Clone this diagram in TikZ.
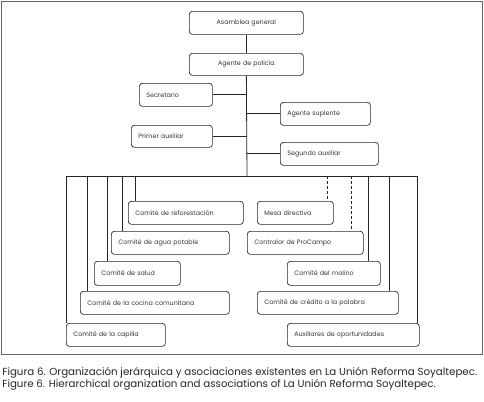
\documentclass[tikz,border=0pt]{standalone}
\usepackage{fontspec}
\setmainfont{Poppins}
\begin{document}
\begin{tikzpicture}[x=1bp,y=-1bp,
  line width=0.7bp,
  box/.style={draw=black!85, rounded corners=3bp, anchor=north west, inner xsep=7bp, inner ysep=0pt,
    font=\fontsize{6.4}{7.4}\selectfont, text=black!80, align=left},
  cbox/.style={box, align=center, inner xsep=0pt},
  conn/.style={draw=black!85, line width=0.8bp},
  dconn/.style={conn, dashed, dash pattern=on 3bp off 2bp}]
\useasboundingbox (0,0) rectangle (484,401);
\draw[black!60, line width=0.8bp] (1,1) rectangle (482,354);
% top
\node[cbox, minimum width=114bp, text width=114bp, minimum height=23bp] (asam) at (189,11) {Asamblea general};
\node[cbox, minimum width=114bp, text width=114bp, minimum height=22bp] (agen) at (189,53) {Agente de policía};
\node[box, minimum height=23bp, text width=59bp] (secr) at (139,83) {Secretario};
\node[box, minimum height=23bp, text width=76bp] (asup) at (280,102) {Agente suplente};
\node[box, minimum height=22bp, text width=67bp] (paux) at (131,125) {Primer auxiliar};
\node[box, minimum height=23bp, text width=84bp] (saux) at (280,142) {Segundo auxiliar};
% left column
\node[box, minimum height=23bp, text width=101bp] (refo) at (128,201) {Comité de reforestación};
\node[box, minimum height=23bp, text width=104bp] (agua) at (111,231) {Comité de agua potable};
\node[box, minimum height=24bp, text width=72bp] (salu) at (94,261) {Comité de salud};
\node[box, minimum height=23bp, text width=135bp] (coci) at (80,291) {Comité de la cocina comunitaria};
\node[box, minimum height=23bp, text width=85bp] (capi) at (66,323) {Comité de la capilla};
% right column
\node[box, minimum height=23bp, text width=62bp] (mesa) at (257,201) {Mesa directiva};
\node[box, minimum height=23bp, text width=102bp] (cont) at (247,231) {Contralor de ProCampo};
\node[box, minimum height=24bp, text width=79bp] (moli) at (287,261) {Comité del molino};
\node[box, minimum height=23bp, text width=127bp] (cred) at (257,291) {Comité de crédito a la palabra};
\node[box, minimum height=23bp, text width=118bp] (auxo) at (287,323) {Auxiliares de oportunidades};
% connectors
\coordinate (bus) at (247,176);
\coordinate (busL) at (66,176);
\coordinate (busR) at (417,176);
\draw[conn] (asam) -- (agen);
\draw[conn] (agen.south) -- (bus);
\draw[conn] (secr.east) -- (secr.east -| bus);
\draw[conn] (paux.east) -- (paux.east -| bus);
\draw[conn] (asup.west) -- (asup.west -| bus);
\draw[conn] (saux.west) -- (saux.west -| bus);
\draw[conn] (busL) -- (busR);
\coordinate (l1) at (135,176);
\coordinate (l2) at (122,176);
\coordinate (l3) at (107,176);
\coordinate (l4) at (87,176);
\coordinate (r1) at (327,176);
\coordinate (r2) at (351,176);
\coordinate (r3) at (368,176);
\coordinate (r4) at (389,176);
\draw[conn] (l1) -- (l1 |- refo.north);
\draw[conn] (l2) -- (l2 |- agua.north);
\draw[conn] (l3) -- (l3 |- salu.north);
\draw[conn] (l4) -- (l4 |- coci.north);
\draw[conn] (busL) -- (busL |- capi.north);
\draw[dconn] (r1) -- (r1 |- mesa.north);
\draw[dconn] (r2) -- (r2 |- cont.north);
\draw[conn] (r3) -- (r3 |- moli.north);
\draw[conn] (r4) -- (r4 |- cred.north);
\draw[conn] (busR) -- (busR |- auxo.north);
% caption
\node[anchor=west, inner sep=0pt, font=\fontsize{10.3}{12}\selectfont, text=black!85] (cap1) at (2,373) {Figura 6. Organización jerárquica y asociaciones existentes en La Unión Reforma Soyaltepec.};
\node[anchor=west, inner sep=0pt, font=\fontsize{10.3}{12}\selectfont, text=black!85] (cap2) at (2,385) {Figure 6. Hierarchical organization and associations of La Unión Reforma Soyaltepec.};
\end{tikzpicture}
\end{document}
